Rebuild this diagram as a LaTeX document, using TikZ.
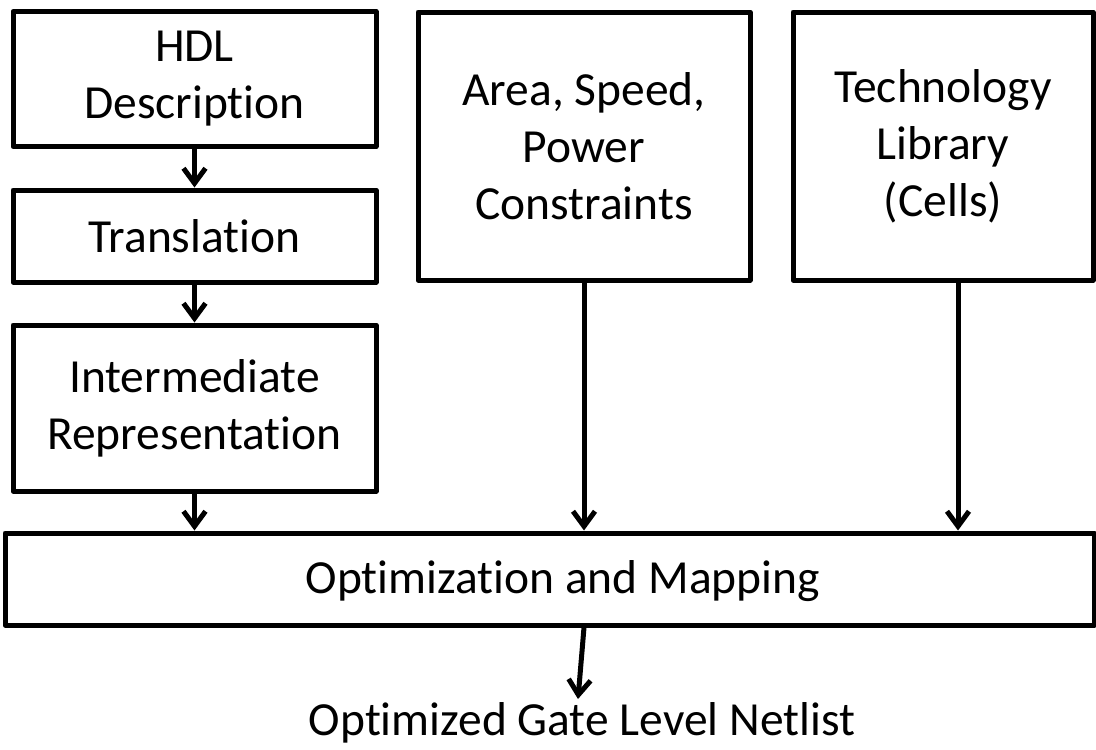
\documentclass[tikz,border=0pt]{standalone}
\usepackage{fontspec}
\setmainfont{Carlito}[Ligatures=NoCommon]
\usetikzlibrary{arrows.meta}
\begin{document}
\begin{tikzpicture}[x=1pt,y=-1pt,
  box/.style={draw, line width=5pt, line join=round, align=center, inner sep=0pt,
    font=\fontsize{47.5}{57}\selectfont},
  lbl/.style={align=center, inner sep=0pt, font=\fontsize{47.5}{57}\selectfont},
  arr/.style={line width=5pt, -{Straight Barb[length=15pt,width=22pt,line width=5pt]}}]
\useasboundingbox (0,0) rectangle (1096,750);
\node[box, minimum width=363pt, minimum height=135pt] (hdl) at (194.5,79) {HDL\\Description};
\node[box, minimum width=363pt, minimum height=92pt] (trans) at (194.5,236) {Translation};
\node[box, minimum width=363pt, minimum height=166pt] (inter) at (194.5,408) {Intermediate\\Representation};
\node[box, minimum width=332pt, minimum height=268pt] (area) at (584,146) {Area, Speed,\\Power\\Constraints};
\node[box, minimum width=300pt, minimum height=268pt] (tech) at (943,146) {Technology\\Library\\(Cells)};
\node[box, minimum width=1089pt, minimum height=92pt] (opt) at (549.5,579) {};
\node[lbl] (optlbl) at (563,581) {Optimization and Mapping};
\node[lbl, anchor=base] (out) at (582,735) {Optimized Gate Level Netlist};
\draw[arr] (hdl.south) -- (trans.north);
\draw[arr] (trans.south) -- (inter.north);
\draw[arr] (inter.south) -- (inter.south |- opt.north);
\draw[arr] (area.south) -- (area.south |- opt.north);
\coordinate (tb) at ([xshift=15pt]tech.south);
\draw[arr] (tb) -- (tb |- opt.north);
\coordinate (os) at (opt.south -| area.south);
\coordinate (ot) at (578,699);
\draw[arr] (os) -- (ot);
\end{tikzpicture}
\end{document}
